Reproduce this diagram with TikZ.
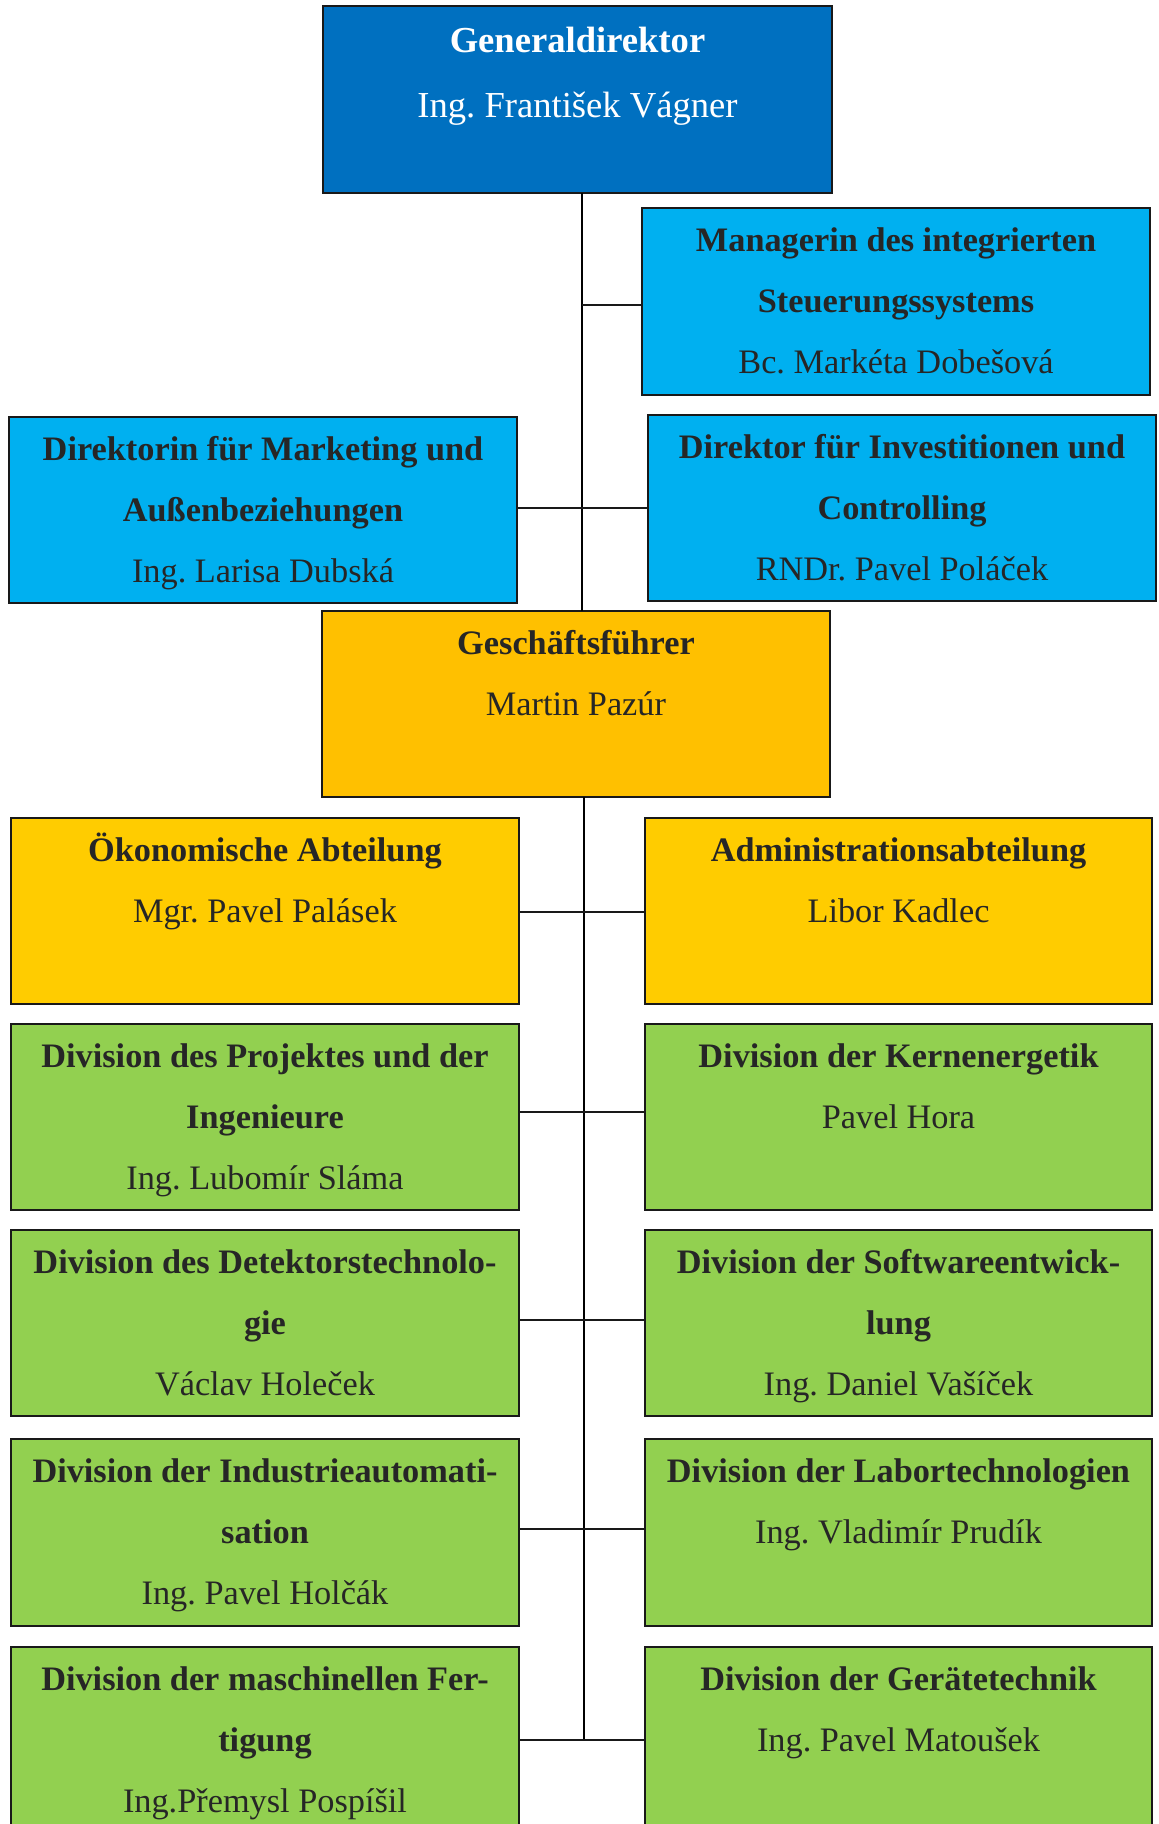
\documentclass[tikz,border=0pt]{standalone}
\usepackage{fontspec}
\setmainfont{Liberation Serif}
\frenchspacing
\definecolor{gdblue}{HTML}{0070C0}
\definecolor{lblue}{HTML}{00B0F0}
\definecolor{gold}{HTML}{FFC000}
\definecolor{yel}{HTML}{FFCC00}
\definecolor{grn}{HTML}{92D050}
\definecolor{darkt}{HTML}{262626}
\newcommand\obox[6]{\node[box,#2,minimum width={(#5-#3)*0.5pt},minimum height={(#6-#4)*0.5pt}] (#1) at (#3,#4) {};}
\newcommand\oline[4]{\node[#3,anchor=base] (#1-#2) at ([yshift={-21.75pt-30.5pt*(#2-1)}]#1.north) {#4};}
\begin{document}
\begin{tikzpicture}[x=0.5pt,y=-0.5pt,
  box/.style={draw=black!90,line width=1pt,inner sep=0pt,outer sep=0pt,anchor=north west},
  bt/.style={font=\fontsize{17.15}{20}\selectfont\bfseries,text=darkt,inner sep=0pt},
  rt/.style={font=\fontsize{17.15}{20}\selectfont,text=darkt,inner sep=0pt},
  gdt/.style={font=\fontsize{18.3}{22}\selectfont,text=white,inner sep=0pt},
  spine/.style={draw=black,line width=0.75pt},
  conn/.style={draw=black!90,line width=1pt}]
\useasboundingbox (0,0) rectangle (1158,1824);
\clip (0,0) rectangle (1158,1824);
% boxes
\obox{gd}{fill=gdblue}{323}{6}{832}{193}
\obox{man}{fill=lblue}{642}{208}{1150}{395}
\obox{dm}{fill=lblue}{9}{417}{517}{603}
\obox{di}{fill=lblue}{648}{415}{1156}{601}
\obox{gf}{fill=gold}{322}{611}{830}{797}
\obox{ok}{fill=yel}{11}{818}{519}{1004}
\obox{adm}{fill=yel}{645}{818}{1152}{1004}
\obox{pr}{fill=grn}{11}{1024}{519}{1210}
\obox{ke}{fill=grn}{645}{1024}{1152}{1210}
\obox{de}{fill=grn}{11}{1230}{519}{1416}
\obox{so}{fill=grn}{645}{1230}{1152}{1416}
\obox{ia}{fill=grn}{11}{1439}{519}{1626}
\obox{la}{fill=grn}{645}{1439}{1152}{1626}
\obox{ma}{fill=grn}{11}{1647}{519}{1860}
\obox{ge}{fill=grn}{645}{1647}{1152}{1860}
% texts
\node[gdt,font=\fontsize{18.3}{22}\selectfont\bfseries,anchor=base] (gd-1) at ([yshift=-23.5pt]gd.north) {Generaldirektor};
\node[gdt,anchor=base] (gd-2) at ([yshift=-56pt]gd.north) {Ing. František Vágner};
\oline{man}{1}{bt}{Managerin des integrierten}
\oline{man}{2}{bt}{Steuerungssystems}
\oline{man}{3}{rt}{Bc. Markéta Dobešová}
\oline{dm}{1}{bt}{Direktorin für Marketing und}
\oline{dm}{2}{bt}{Außenbeziehungen}
\oline{dm}{3}{rt}{Ing. Larisa Dubská}
\oline{di}{1}{bt}{Direktor für Investitionen und}
\oline{di}{2}{bt}{Controlling}
\oline{di}{3}{rt}{RNDr. Pavel Poláček}
\oline{gf}{1}{bt}{Geschäftsführer}
\oline{gf}{2}{rt}{Martin Pazúr}
\oline{ok}{1}{bt}{Ökonomische Abteilung}
\oline{ok}{2}{rt}{Mgr. Pavel Palásek}
\oline{adm}{1}{bt}{Administrationsabteilung}
\oline{adm}{2}{rt}{Libor Kadlec}
\oline{pr}{1}{bt}{Division des Projektes und der}
\oline{pr}{2}{bt}{Ingenieure}
\oline{pr}{3}{rt}{Ing. Lubomír Sláma}
\oline{ke}{1}{bt}{Division der Kernenergetik}
\oline{ke}{2}{rt}{Pavel Hora}
\oline{de}{1}{bt}{Division des Detektorstechnolo-}
\oline{de}{2}{bt}{gie}
\oline{de}{3}{rt}{Václav Holeček}
\oline{so}{1}{bt}{Division der Softwareentwick-}
\oline{so}{2}{bt}{lung}
\oline{so}{3}{rt}{Ing. Daniel Vašíček}
\oline{ia}{1}{bt}{Division der Industrieautomati-}
\oline{ia}{2}{bt}{sation}
\oline{ia}{3}{rt}{Ing. Pavel Holčák}
\oline{la}{1}{bt}{Division der Labortechnologien}
\oline{la}{2}{rt}{Ing. Vladimír Prudík}
\oline{ma}{1}{bt}{Division der maschinellen Fer-}
\oline{ma}{2}{bt}{tigung}
\oline{ma}{3}{rt}{Ing.Přemysl Pospíšil}
\oline{ge}{1}{bt}{Division der Gerätetechnik}
\oline{ge}{2}{rt}{Ing. Pavel Matoušek}
% spine coordinates
\coordinate (u) at (582,0);
\coordinate (l) at (584,0);
\coordinate (lend) at (584,1741);
\coordinate (c0) at (582,305);
\coordinate (c1) at (582,508);
\coordinate (c2) at (584,912);
\coordinate (c3) at (584,1112);
\coordinate (c4) at (584,1320);
\coordinate (c5) at (584,1529);
\coordinate (c6) at (584,1740);
% connectors
\draw[spine] (gd.south -| u) -- (gf.north -| u);
\draw[spine] (gf.south -| l) -- (lend);
\draw[conn] (c0) -- (c0 -| man.west);
\draw[conn] (c1 -| dm.east) -- (c1 -| di.west);
\draw[conn] (c2 -| ok.east) -- (c2 -| adm.west);
\draw[conn] (c3 -| pr.east) -- (c3 -| ke.west);
\draw[conn] (c4 -| de.east) -- (c4 -| so.west);
\draw[conn] (c5 -| ia.east) -- (c5 -| la.west);
\draw[conn] (c6 -| ma.east) -- (c6 -| ge.west);
\end{tikzpicture}
\end{document}
